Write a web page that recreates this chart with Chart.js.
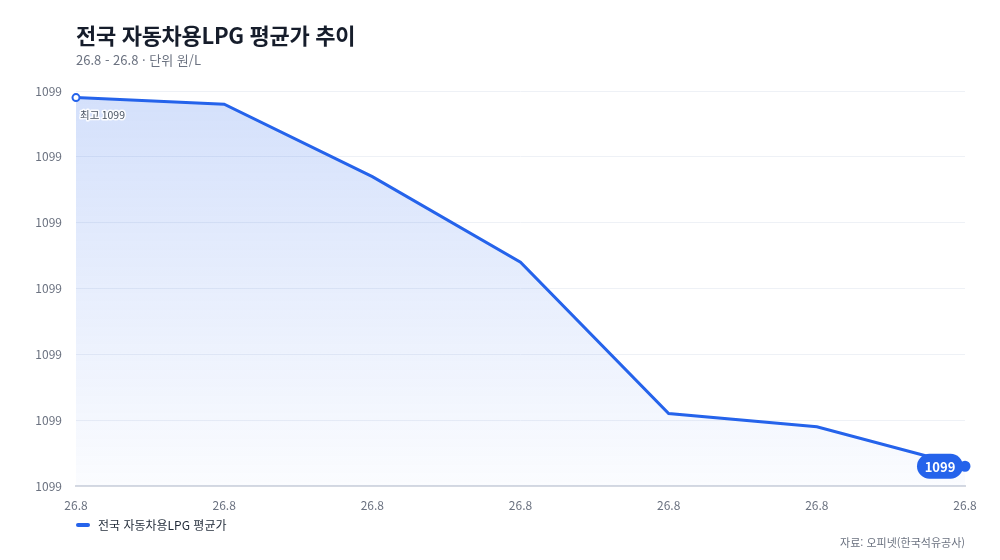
<!DOCTYPE html>
<html lang="ko">
<head>
<meta charset="utf-8">
<script src="https://cdn.jsdelivr.net/npm/chart.js@4"></script>
<style>
body { margin: 0; background: #fff; font-family: "Noto Sans CJK KR", "Noto Sans", sans-serif; }
#wrap { position: relative; width: 1000px; height: 560px; }
#chart { position: absolute; left: 0; top: 0; }
.title { position: absolute; left: 76px; top: 18px; font-size: 22px; font-weight: 700; color: #161d2b; letter-spacing: -0.3px; }
.sub { position: absolute; left: 76px; top: 50px; font-size: 13px; color: #6b7280; }
.legend { position: absolute; left: 76px; top: 516px; font-size: 12px; color: #1f2937; display: flex; align-items: center; }
.legend i { display: inline-block; width: 14px; height: 4px; border-radius: 2px; background: #2563eb; margin-right: 8px; }
.source { position: absolute; right: 35px; top: 534px; font-size: 11px; color: #6b7280; }
</style>
</head>
<body>
<div id="wrap">
  <canvas id="chart" width="1000" height="560"></canvas>
  <div class="title">전국 자동차용LPG 평균가 추이</div>
  <div class="sub">26.8 - 26.8 · 단위 원/L</div>
  <div class="legend"><i></i>전국 자동차용LPG 평균가</div>
  <div class="source">자료: 오피넷(한국석유공사)</div>
</div>
<script>
const labels = ['26.8', '26.8', '26.8', '26.8', '26.8', '26.8', '26.8'];
const prices = [1099.29, 1099.28, 1099.17, 1099.04, 1098.81, 1098.79, 1098.73];
const yMin = 1098.7;
const yMax = 1099.3;
const yStep = 0.1;

const BLUE = '#2563eb';
const FONT = '"Noto Sans CJK KR", "Noto Sans", sans-serif';
Chart.defaults.font.family = FONT;

// labels for the highest and the latest point
const markLabels = {
  id: 'markLabels',
  afterDatasetsDraw(chart) {
    const ctx = chart.ctx;
    const pts = chart.getDatasetMeta(0).data;
    const hiIdx = prices.indexOf(Math.max(...prices));
    const hi = pts[hiIdx];
    const last = pts[pts.length - 1];

    ctx.save();
    ctx.font = '10.5px ' + FONT;
    ctx.textBaseline = 'middle';
    ctx.textAlign = 'left';
    ctx.lineWidth = 3;
    ctx.strokeStyle = 'rgba(255,255,255,0.9)';
    ctx.lineJoin = 'round';
    const hiText = '최고 ' + Math.round(prices[hiIdx]);
    ctx.strokeText(hiText, hi.x + 4, hi.y + 17);
    ctx.fillStyle = '#4b5563';
    ctx.fillText(hiText, hi.x + 4, hi.y + 17);

    const w = 46, h = 25;
    const cx = last.x - 25;
    ctx.fillStyle = BLUE;
    ctx.beginPath();
    ctx.roundRect(cx - w / 2, last.y - h / 2, w, h, h / 2);
    ctx.fill();
    ctx.fillStyle = '#fff';
    ctx.font = '600 13px ' + FONT;
    ctx.textAlign = 'center';
    ctx.fillText(String(Math.round(prices[prices.length - 1])), cx, last.y + 1);
    ctx.restore();
  }
};

const ctx = document.getElementById('chart').getContext('2d');
const grad = ctx.createLinearGradient(0, 91, 0, 486);
grad.addColorStop(0, 'rgba(37,99,235,0.2)');
grad.addColorStop(1, 'rgba(37,99,235,0.02)');

new Chart(ctx, {
  type: 'line',
  data: {
    labels,
    datasets: [{
      label: '전국 자동차용LPG 평균가',
      data: prices,
      borderColor: BLUE,
      borderWidth: 3,
      backgroundColor: grad,
      fill: true,
      tension: 0,
      pointRadius: (c) => (c.dataIndex === 0 ? 3.5 : c.dataIndex === prices.length - 1 ? 4.5 : 0),
      pointBackgroundColor: (c) => (c.dataIndex === 0 ? '#fff' : BLUE),
      pointBorderColor: BLUE,
      pointBorderWidth: 2
    }]
  },
  options: {
    responsive: false,
    animation: false,
    layout: { padding: { top: 91, right: 35, left: 0, bottom: 0 } },
    plugins: {
      legend: { display: false },
      tooltip: { enabled: false }
    },
    scales: {
      x: {
        grid: { display: false, drawTicks: false },
        border: { color: '#d5d9e2', width: 2 },
        ticks: { color: '#6b7280', font: { size: 12 }, padding: 12, maxRotation: 0, autoSkip: false },
        afterFit: (s) => { s.height = 74; }
      },
      y: {
        min: yMin,
        max: yMax,
        grid: { color: '#eef1f6', drawTicks: false },
        border: { display: false },
        ticks: {
          stepSize: yStep,
          color: '#6b7280',
          font: { size: 12 },
          padding: 14,
          callback: (v) => String(Math.round(v))
        },
        afterFit: (s) => { s.width = 76; }
      }
    }
  },
  plugins: [markLabels]
});
</script>
</body>
</html>
